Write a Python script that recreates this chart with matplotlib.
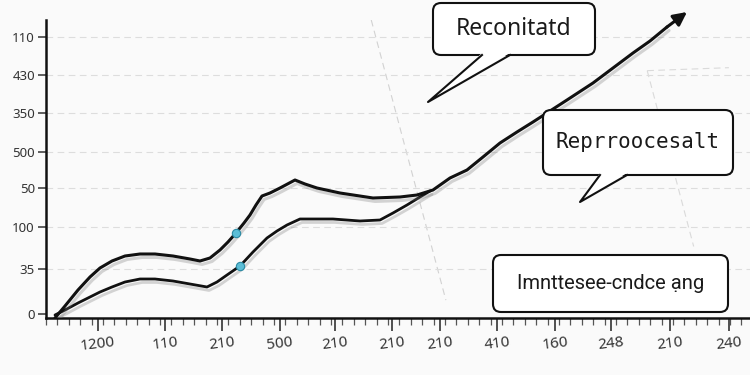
import numpy as np
import matplotlib
matplotlib.use("Agg")
import matplotlib.pyplot as plt
import matplotlib.patheffects as pe
from matplotlib.patches import FancyBboxPatch, Polygon
from matplotlib.lines import Line2D
from matplotlib.transforms import Affine2D
from matplotlib.ticker import MultipleLocator

# curve readings (x to the right, y upward, same units as the axes)
upper_x = [9, 19, 32, 44, 54, 66, 79, 94, 109, 127, 144, 154, 164, 174, 182, 190, 198, 204,
           210, 216, 224, 234, 249, 259, 271, 294, 327, 354, 371, 387, 404, 421, 437, 454,
           471, 487, 504, 521, 547, 567, 587, 604, 621]
upper_y = [0, 12, 28, 41, 50, 57, 62, 64, 64, 62, 59, 57, 60, 68, 76, 85, 95, 103,
           113, 122, 125, 130, 138, 134, 130, 125, 120, 121, 123, 128, 140, 148, 161, 175,
           186, 196, 207, 218, 235, 250, 265, 277, 291]
arrow_tip = (641, 306)

lower_x = [9, 19, 32, 44, 54, 66, 79, 94, 109, 127, 144, 161, 171, 181, 194, 207, 221, 231,
           241, 254, 287, 314, 334, 347, 361, 374, 384]
lower_y = [3, 8, 15, 21, 26, 31, 36, 39, 39, 37, 34, 31, 36, 43, 52, 66, 80, 87,
           93, 99, 99, 97, 98, 105, 113, 121, 127]

upper_marker_idx = 15
lower_marker_idx = 14

ytick_pos = [4, 49, 91, 130, 166, 205, 243, 281]
ytick_labels = ["0", "35", "100", "50", "500", "350", "430", "110"]
xtick_pos = [52, 119, 176, 234, 289, 346, 394, 451, 509, 565, 624, 683]
xtick_labels = ["1200", "110", "210", "500", "210", "210", "210", "410", "160", "248", "210", "240"]

bubble_texts = ["Reconitatd", "Reprroocesalt", "Imnttesee-cndce ạng"]

BG = "#fafafa"
LINE = "#111111"
DOT = "#5bbdd6"
DASH = (0, (6, 4))

plt.rcParams["font.family"] = ["Noto Sans", "DejaVu Sans"]

fig = plt.figure(figsize=(7.5, 3.75), dpi=100, facecolor=BG)
ax = fig.add_axes([46 / 750, 57 / 375, 704 / 750, 298 / 375])
ax.set_facecolor(BG)
ax.set_xlim(0, 704)
ax.set_ylim(0, 298)

for s in ["top", "right"]:
    ax.spines[s].set_visible(False)
for s in ["left", "bottom"]:
    ax.spines[s].set_linewidth(1.8)
    ax.spines[s].set_color(LINE)

ax.set_yticks(ytick_pos)
ax.set_yticklabels(ytick_labels, fontsize=9.5, color="#333333")
ax.set_xticks(xtick_pos)
ax.set_xticklabels(xtick_labels, fontsize=11, color="#333333", rotation=7)
ax.xaxis.set_minor_locator(MultipleLocator(11.4))
ax.tick_params(axis="y", length=6, width=1.1, color="#333333", pad=2)
ax.tick_params(axis="x", which="major", length=9, width=1.2, color="#333333", pad=3)
ax.tick_params(axis="x", which="minor", length=5, width=0.9, color="#555555")

ax.grid(axis="y", color="#dddddd", linestyle=DASH, linewidth=0.8)
ax.yaxis.get_gridlines()[0].set_visible(False)

# faint perspective guides
ax.plot([0.462, 0.568], [1.0, 0.06], transform=ax.transAxes, color="#d2d2d2",
        linestyle=DASH, linewidth=0.8, zorder=0)
ax.plot([0.854, 0.92], [0.83, 0.24], transform=ax.transAxes, color="#dadada",
        linestyle=DASH, linewidth=0.8, zorder=0)
ax.plot([0.854, 0.97], [0.83, 0.84], transform=ax.transAxes, color="#dadada",
        linestyle=DASH, linewidth=0.8, zorder=0)

shadow = [pe.SimpleLineShadow(offset=(1.5, -2.5), shadow_color="#777777", alpha=0.3),
          pe.Normal()]

ax.plot(lower_x, lower_y, color=LINE, linewidth=2, solid_capstyle="round",
        path_effects=shadow, zorder=3)
ax.plot(upper_x, upper_y, color=LINE, linewidth=2.2, solid_capstyle="round",
        path_effects=shadow, zorder=3)
ax.annotate("", xy=arrow_tip, xytext=(upper_x[-1], upper_y[-1]), annotation_clip=False,
            arrowprops=dict(arrowstyle="-|>", color=LINE, lw=2.2, mutation_scale=20,
                            shrinkA=0, shrinkB=0), zorder=4)
ax.plot(upper_x[upper_marker_idx], upper_y[upper_marker_idx], "o", markersize=6,
        markerfacecolor=DOT, markeredgecolor="#2b8aa3", markeredgewidth=0.8, zorder=5)
ax.plot(lower_x[lower_marker_idx], lower_y[lower_marker_idx], "o", markersize=6,
        markerfacecolor=DOT, markeredgecolor="#2b8aa3", markeredgewidth=0.8, zorder=5)

# speech bubbles, placed in figure pixels (origin top-left)
px = Affine2D().scale(1 / 750, -1 / 375).translate(0, 1) + fig.transFigure


def bubble(x0, y0, x1, y1, text, fs, family, tail=None):
    box = FancyBboxPatch((x0, y0), x1 - x0, y1 - y0, boxstyle="round,pad=0,rounding_size=8",
                         transform=px, facecolor="white", edgecolor=LINE, linewidth=1.5,
                         zorder=10)
    fig.add_artist(box)
    if tail is not None:
        (bx0, bx1, tx, ty) = tail
        fig.add_artist(Polygon([(bx0, y1 - 2), (tx, ty), (bx1, y1 - 2)], closed=True,
                               transform=px, facecolor="white", edgecolor="none", zorder=11))
        fig.add_artist(Line2D([bx0, tx, bx1], [y1, ty, y1], transform=px, color=LINE,
                              linewidth=1.5, zorder=12))
    fig.text((x0 + x1) / 2 / 750, 1 - (y0 + y1) / 2 / 375, text, ha="center", va="center",
             fontsize=fs, family=family, color="#1a1a1a", zorder=13)


bubble(433, 3, 595, 55, bubble_texts[0], 16.5, ["Noto Sans", "DejaVu Sans"], tail=(482, 510, 428, 102))
bubble(543, 110, 733, 175, bubble_texts[1], 15, ["DejaVu Sans Mono"], tail=(600, 627, 580, 202))
bubble(493, 255, 728, 312, bubble_texts[2], 14.5, ["Roboto", "DejaVu Sans"])

fig.savefig("out.png", dpi=100, facecolor=BG)
